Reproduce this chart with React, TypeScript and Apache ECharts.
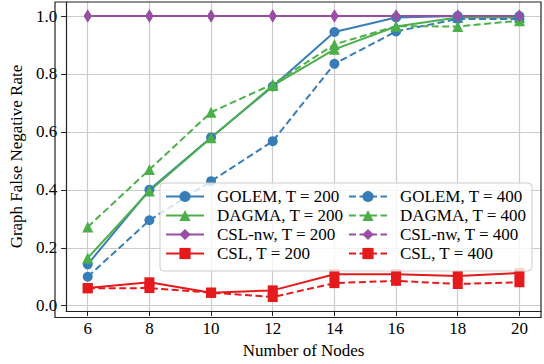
import React, { useEffect, useRef } from "react";
import * as echarts from "echarts";

const nodes = [6, 8, 10, 12, 14, 16, 18, 20];
const golem200 = [0.143, 0.4, 0.581, 0.757, 0.945, 0.995, 1.0, 1.0];
const golem400 = [0.1, 0.295, 0.43, 0.568, 0.835, 0.947, 0.99, 0.99];
const dagma200 = [0.165, 0.396, 0.58, 0.76, 0.885, 0.964, 0.995, 0.995];
const dagma400 = [0.272, 0.47, 0.668, 0.765, 0.902, 0.965, 0.964, 0.984];
const cslnw200 = [1, 1, 1, 1, 1, 1, 1, 1];
const cslnw400 = [1, 1, 1, 1, 1, 1, 1, 1];
const csl200 = [0.061, 0.081, 0.045, 0.053, 0.109, 0.109, 0.103, 0.113];
const csl400 = [0.06, 0.061, 0.045, 0.03, 0.078, 0.086, 0.075, 0.081];
const xTicks = [6, 8, 10, 12, 14, 16, 18, 20];
const yTicks = [0, 0.2, 0.4, 0.6, 0.8, 1.0];

const BLUE = "#377eb8";
const GREEN = "#4daf4a";
const PURPLE = "#984ea3";
const RED = "#e41a1c";
const FONT = "'Liberation Serif', 'Times New Roman', serif";

function mk(name: string, vals: number[], color: string, symbol: string, size: any, dashed: boolean) {
  return {
    name,
    type: "line",
    data: nodes.map((n, i) => [n, vals[i]]),
    symbol,
    symbolSize: size,
    showAllSymbol: true,
    color,
    itemStyle: { color, borderWidth: 0 },
    lineStyle: { color, width: 2, type: dashed ? [7, 3.5] : "solid" },
    emphasis: { disabled: true },
  };
}

export default function App() {
  const ref = useRef<HTMLDivElement>(null);
  useEffect(() => {
    const chart = echarts.init(ref.current!, undefined, { renderer: "svg" });
    const series = [
      mk("GOLEM, T = 200", golem200, BLUE, "circle", 10, false),
      mk("DAGMA, T = 200", dagma200, GREEN, "triangle", 11, false),
      mk("CSL-nw, T = 200", cslnw200, PURPLE, "diamond", [8, 13], false),
      mk("CSL, T = 200", csl200, RED, "rect", 10, false),
      mk("GOLEM, T = 400", golem400, BLUE, "circle", 10, true),
      mk("DAGMA, T = 400", dagma400, GREEN, "triangle", 11, true),
      mk("CSL-nw, T = 400", cslnw400, PURPLE, "diamond", [8, 13], true),
      mk("CSL, T = 400", csl400, RED, "rect", 10, true),
    ];
    const legendCommon = {
      orient: "vertical",
      padding: 0,
      itemWidth: 38,
      itemHeight: 14,
      itemGap: 2,
      z: 10,
      textStyle: { fontFamily: FONT, fontSize: 17, color: "#000", lineHeight: 17, padding: [0, 0, 0, 8] },
      selectedMode: false,
    };
    const axisText = { fontFamily: FONT, fontSize: 17, color: "#000" };
    chart.setOption({
      animation: false,
      textStyle: { fontFamily: FONT },
      grid: { left: 55, right: 3, top: 2, bottom: 46.5, containLabel: false },
      xAxis: {
        type: "value",
        min: 5.3,
        max: 20.7,
        name: "Number of Nodes",
        nameLocation: "middle",
        nameGap: 29,
        nameTextStyle: { fontFamily: FONT, fontSize: 17, color: "#000" },
        axisLine: { show: true, onZero: false, lineStyle: { color: "#222", width: 1.2 } },
        axisTick: { show: true, length: 5, customValues: xTicks, lineStyle: { color: "#222" } },
        axisLabel: { ...axisText, customValues: xTicks, margin: 9, formatter: (v: number) => String(v) },
        splitLine: { show: true, lineStyle: { color: "#cccccc", width: 1.2 } },
      },
      yAxis: {
        type: "value",
        min: -0.0185,
        max: 1.0485,
        name: "Graph False Negative Rate",
        nameLocation: "middle",
        nameGap: 40,
        nameTextStyle: { fontFamily: FONT, fontSize: 17, color: "#000" },
        axisLine: { show: true, onZero: false, lineStyle: { color: "#222", width: 1.2 } },
        axisTick: { show: true, length: 5, customValues: yTicks, lineStyle: { color: "#222" } },
        axisLabel: { ...axisText, customValues: yTicks, margin: 9, formatter: (v: number) => v.toFixed(1) },
        splitLine: { show: true, lineStyle: { color: "#cccccc", width: 1.2 } },
      },
      legend: [
        { ...legendCommon, left: 165, top: 188, data: series.slice(0, 4).map((s) => s.name) },
        { ...legendCommon, left: 348, top: 188, data: series.slice(4).map((s) => s.name) },
      ],
      graphic: [
        {
          type: "rect",
          z: 9,
          shape: { x: 160, y: 183, width: 372, height: 88, r: 4 },
          style: { fill: "rgba(255,255,255,0.8)", stroke: "#cccccc", lineWidth: 1 },
        },
        {
          type: "rect",
          z: 20,
          silent: true,
          shape: { x: 55, y: 2, width: 486, height: 315.5 },
          style: { fill: "none", stroke: "#222", lineWidth: 1.2 },
        },
      ],
      series,
    });
    return () => chart.dispose();
  }, []);
  return <div ref={ref} style={{ width: 544, height: 364, position: "absolute", left: 0, top: 0 }} />;
}
